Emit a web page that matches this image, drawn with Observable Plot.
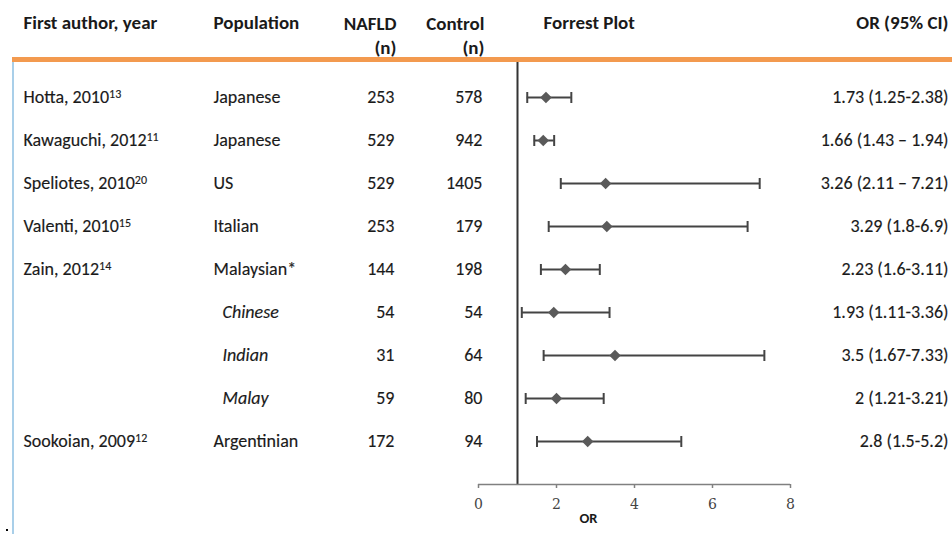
<!DOCTYPE html>
<html>
<head>
<meta charset="utf-8">
<script src="https://cdn.jsdelivr.net/npm/d3@7"></script>
<script src="https://cdn.jsdelivr.net/npm/@observablehq/plot@0.6"></script>
<style>
  html, body { margin: 0; padding: 0; background: #fff; }
  #chart { width: 952px; height: 534px; }
</style>
</head>
<body>
<div id="chart"></div>
<script>
// ---- data ----
const authors    = ["Hotta, 2010", "Kawaguchi, 2012", "Speliotes, 2010", "Valenti, 2010", "Zain, 2012", "", "", "", "Sookoian, 2009"];
const refs       = ["13", "11", "20", "15", "14", "", "", "", "12"];
const populations = ["Japanese", "Japanese", "US", "Italian", "Malaysian*", "Chinese", "Indian", "Malay", "Argentinian"];
const subgroup   = [false, false, false, false, false, true, true, true, false];
const nafld      = [253, 529, 529, 253, 144, 54, 31, 59, 172];
const control    = [578, 942, 1405, 179, 198, 54, 64, 80, 94];
const orValues   = [1.73, 1.66, 3.26, 3.29, 2.23, 1.93, 3.5, 2, 2.8];
const ciLow      = [1.25, 1.43, 2.11, 1.8, 1.6, 1.11, 1.67, 1.21, 1.5];
const ciHigh     = [2.38, 1.94, 7.21, 6.9, 3.11, 3.36, 7.33, 3.21, 5.2];
const orLabels   = ["1.73 (1.25-2.38)", "1.66 (1.43 \u2013 1.94)", "3.26 (2.11 \u2013 7.21)", "3.29 (1.8-6.9)", "2.23 (1.6-3.11)", "1.93 (1.11-3.36)", "3.5 (1.67-7.33)", "2 (1.21-3.21)", "2.8 (1.5-5.2)"];
const xTicks     = [0, 2, 4, 6, 8];
const nullEffect = 1;
const headers    = ["First author, year", "Population", "NAFLD\n(n)", "Control\n(n)", "Forrest Plot", "OR (95% CI)"];

const rows = authors.map((a, i) => ({
  i, author: a, ref: refs[i], pop: populations[i], sub: subgroup[i],
  nafld: nafld[i], control: control[i], or: orValues[i], lo: ciLow[i], hi: ciHigh[i], label: orLabels[i]
}));

const FONT = "Carlito, Calibri, Lato, 'Open Sans', sans-serif";
const TXT = "#1a1a1a";
const FS = 18;     // body font size
const HFS = 19;    // header font size

// vertical cap symbol for CI whiskers
const capSymbol = {
  draw(ctx, size) {
    const r = Math.sqrt(size / Math.PI);
    ctx.moveTo(0, -r);
    ctx.lineTo(0, r);
  }
};

const W = 952, H = 534;
const mL = 478, mR = 162, mT = 62, mB = 50;

const bodyText = {fontSize: FS, fill: TXT, stroke: TXT, strokeWidth: 0.15};
const headText = {fontSize: HFS, fontWeight: "bold", fill: TXT};

const chart = Plot.plot({
  width: W, height: H,
  marginLeft: mL, marginRight: mR, marginTop: mT, marginBottom: mB,
  style: {fontFamily: FONT, color: TXT, background: "white"},
  x: {domain: [d3.min(xTicks), d3.max(xTicks)], axis: null},
  y: {domain: [0, rows.length], range: [97, H - mB], axis: null},
  marks: [
    // null-effect line
    Plot.ruleX([nullEffect], {stroke: "#333", strokeWidth: 2}),
    // axis line
    Plot.ruleY([rows.length], {x1: d3.min(xTicks), x2: d3.max(xTicks), stroke: "#808080", strokeWidth: 1.5}),
    Plot.axisX({ticks: xTicks, tickSize: 4, tickPadding: 11, stroke: "#808080", strokeWidth: 1.5,
      fontFamily: "'DejaVu Serif', 'Liberation Serif', serif", fontSize: 14, fill: "#444", label: null}),
    Plot.text(["OR"], {frameAnchor: "bottom-left", dx: 101, dy: 38, fontWeight: "bold", fontSize: 14.5, fill: TXT, textAnchor: "start"}),
    // CI whiskers
    Plot.ruleY(rows, {y: "i", x1: "lo", x2: "hi", stroke: "#444", strokeWidth: 2}),
    Plot.dot(rows, {x: "lo", y: "i", symbol: capSymbol, r: 5.5, stroke: "#444", strokeWidth: 2, fill: "none"}),
    Plot.dot(rows, {x: "hi", y: "i", symbol: capSymbol, r: 5.5, stroke: "#444", strokeWidth: 2, fill: "none"}),
    // point estimates
    Plot.dot(rows, {x: "or", y: "i", symbol: "diamond2", r: 5.2, fill: "#5a5a5a", stroke: "none"}),
    // text columns
    Plot.text(rows, {y: "i", text: d => d.author, frameAnchor: "left", dx: 23 - mL, textAnchor: "start", ...bodyText, className: "author-col"}),
    Plot.text(rows.filter(d => !d.sub), {y: "i", text: "pop", frameAnchor: "left", dx: 213 - mL, textAnchor: "start", ...bodyText}),
    Plot.text(rows.filter(d => d.sub), {y: "i", text: "pop", frameAnchor: "left", dx: 222 - mL, textAnchor: "start", fontStyle: "italic", ...bodyText}),
    Plot.text(rows, {y: "i", text: d => String(d.nafld), frameAnchor: "left", dx: 394 - mL, textAnchor: "end", ...bodyText}),
    Plot.text(rows, {y: "i", text: d => String(d.control), frameAnchor: "left", dx: 482 - mL, textAnchor: "end", ...bodyText}),
    Plot.text(rows, {y: "i", text: "label", frameAnchor: "right", dx: 948 - (W - mR), textAnchor: "end", ...bodyText}),
    // headers
    Plot.text([headers[0]], {frameAnchor: "top-left", dx: 23 - mL, dy: 22 - mT, lineAnchor: "middle", textAnchor: "start", ...headText}),
    Plot.text([headers[1]], {frameAnchor: "top-left", dx: 213 - mL, dy: 22 - mT, lineAnchor: "middle", textAnchor: "start", ...headText}),
    Plot.text([headers[2]], {frameAnchor: "top-left", dx: 396 - mL, dy: 34 - mT, lineAnchor: "middle", textAnchor: "end", lineHeight: 1.27, ...headText}),
    Plot.text([headers[3]], {frameAnchor: "top-left", dx: 484 - mL, dy: 34 - mT, lineAnchor: "middle", textAnchor: "end", lineHeight: 1.27, ...headText}),
    Plot.text([headers[4]], {frameAnchor: "top-left", dx: 543 - mL, dy: 22 - mT, lineAnchor: "middle", textAnchor: "start", ...headText}),
    Plot.text([headers[5]], {frameAnchor: "top-right", dx: 948 - (W - mR), dy: 22 - mT, lineAnchor: "middle", textAnchor: "end", ...headText})
  ]
});

// decorations: orange header rule, light blue left border, small dot
const svg = d3.select(chart);
svg.insert("rect", ":first-child").attr("x", 12).attr("y", 62).attr("width", 2).attr("height", H - 62).attr("fill", "#a9cfe9");
svg.append("rect").attr("x", 12).attr("y", 57).attr("width", W - 12).attr("height", 5).attr("fill", "#f39a4f");
svg.append("rect").attr("x", 6).attr("y", 529).attr("width", 2).attr("height", 2).attr("fill", "#000");

// superscript reference numbers after author names
svg.selectAll("g.author-col text").each(function() {
  const t = d3.select(this);
  const row = rows.find(r => r.author && t.text() === r.author);
  if (row && row.ref) {
    t.append("tspan").attr("dy", "-0.4em").attr("font-size", "12px").text(row.ref);
  }
});

document.getElementById("chart").appendChild(chart);
</script>
</body>
</html>
